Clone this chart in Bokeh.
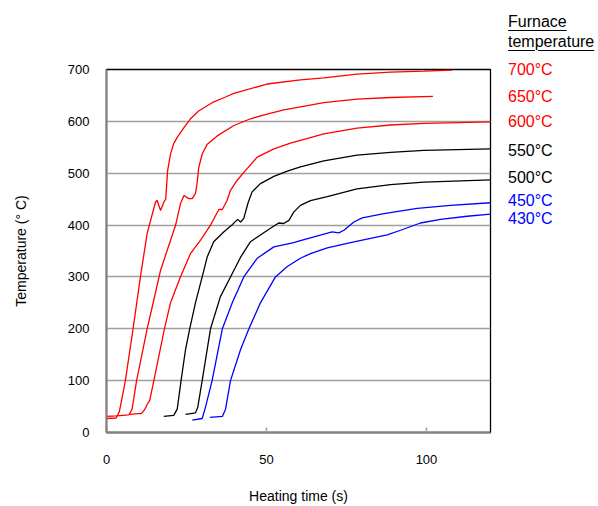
from bokeh.plotting import figure
from bokeh.layouts import row
from bokeh.models import Range1d, FixedTicker, Div
from bokeh.embed import file_html
from bokeh.resources import INLINE

# ---------------- data ----------------
furnace_labels = ["700°C", "650°C", "600°C", "550°C", "500°C", "450°C", "430°C"]
legend_title = ["Furnace", "temperature"]

t_700 = [0, 3, 4, 5.9, 8.3, 10.6, 12.7, 15.3, 15.8, 16.9, 17.9, 18.5, 19.1, 20, 21, 22.1, 24.2,
         26.25, 28.8, 33, 37.2, 39.8, 50.2, 60.6, 67.9, 78.3, 88.75, 99.2, 108]
T_700 = [27, 28, 40, 100, 200, 300, 384, 444, 448, 428, 444, 450, 505, 537, 557, 569, 588,
         605, 620, 636, 647, 654, 672, 680, 684, 691, 695, 697, 699]

t_650 = [0, 3, 7, 8, 9.4, 12.7, 14.8, 16.9, 19, 21.6, 23.1, 24.2, 25.7, 26.8, 27.8, 28.3, 28.8,
         29.9, 31.5, 34.6, 39.8, 45, 50.2, 55.4, 60.6, 67.9, 78.3, 88.75, 102]
T_650 = [31, 32, 34, 45, 100, 200, 256, 313, 352, 400, 441, 457, 451, 451, 461, 480, 510,
         537, 556, 572, 592, 605, 614, 622, 628, 636, 643, 646, 648]

t_600 = [7.3, 11, 12, 12.8, 13.5, 14.8, 18.1, 20, 23.1, 26.25, 29.4, 32.5, 35.1, 36.2, 37.7,
         38.75, 40.8, 43.4, 47.1, 52.3, 57.5, 67.9, 78.3, 88.75, 99.2, 120]
T_600 = [35, 37, 45, 55, 62, 100, 200, 250, 300, 345, 371, 400, 430, 430, 448,
         467, 486, 505, 531, 547, 558, 576, 587, 593, 596, 599]

t_550 = [17.9, 21, 22.1, 23.3, 24.7, 26.0, 27.8, 29.9, 31.5, 33.5, 36.7, 39.2, 41, 41.9, 42.9,
         44.2, 45.5, 48.1, 52.3, 56.5, 60.6, 67.9, 78.3, 88.75, 99.2, 120]
T_550 = [31, 33, 45, 100, 160, 200, 250, 300, 339, 368, 387, 400, 411, 406, 413,
         442, 464, 480, 494, 504, 512, 524, 535, 540, 544, 547]

t_500 = [24.7, 27.8, 28.5, 29.9, 32.5, 35.6, 38.75, 41.9, 45, 48.1, 51.25, 53.8, 55.4, 57, 58.5,
         60.6, 63.75, 69, 78.3, 88.75, 99.2, 120]
T_500 = [35, 38, 48, 100, 200, 262, 300, 338, 368, 381, 394, 404, 403, 409, 425,
         438, 447, 455, 470, 478, 483, 487]

t_450 = [26.8, 29.9, 30.9, 33, 36.2, 39.3, 42.9, 47.1, 52.3, 58.5, 60.6, 70.5, 72.6, 74.2, 77.3,
         79.9, 86.7, 97.1, 107.5, 120]
T_450 = [24, 27, 48, 100, 200, 250, 300, 336, 358, 366, 370, 387, 385, 390, 406,
         414, 422, 432, 438, 443]

t_430 = [32.3, 36.2, 37.2, 38.75, 41.9, 44.5, 48.1, 52.8, 56.5, 60.6, 63.75, 69, 76.25, 87.7,
         91.9, 98.1, 104.4, 112.7, 120]
T_430 = [29, 31, 45, 100, 160, 200, 250, 300, 320, 336, 345, 356, 366, 381,
         390, 404, 411, 417, 421]

x_ticks = [0, 50, 100]
y_ticks = [0, 100, 200, 300, 400, 500, 600, 700]

series_t = [t_700, t_650, t_600, t_550, t_500, t_450, t_430]
series_T = [T_700, T_650, T_600, T_550, T_500, T_450, T_430]

# ---------------- style ----------------
colors = ["#ff0000", "#ff0000", "#ff0000", "#000000", "#000000", "#0000ff", "#0000ff"]
FONT = "Liberation Sans"

p = figure(width=500, height=506, output_backend="svg", toolbar_location=None,
           x_range=Range1d(0, 120), y_range=Range1d(0, 700),
           min_border_left=106, min_border_right=10, min_border_top=69, min_border_bottom=73)
p.background_fill_color = "white"
p.border_fill_color = "white"
p.outline_line_color = "black"
p.outline_line_width = 1.3

for t, T, c in zip(series_t, series_T, colors):
    p.line(t, T, line_color=c, line_width=1.3)

# axes
p.xaxis.ticker = FixedTicker(ticks=x_ticks)
p.yaxis.ticker = FixedTicker(ticks=y_ticks)
p.xaxis.minor_tick_line_color = None
p.yaxis.minor_tick_line_color = None
for ax in (p.xaxis, p.yaxis):
    ax.axis_line_color = "#808080"
    ax.axis_line_width = 2
    ax.major_tick_line_color = "#a0a0a0"
    ax.major_tick_line_width = 1.5
    ax.major_label_text_font = FONT
    ax.major_label_text_font_size = "13px"
    ax.major_label_text_color = "black"
    ax.axis_label_text_font = FONT
    ax.axis_label_text_font_size = "14px"
    ax.axis_label_text_font_style = "normal"
    ax.axis_label_text_color = "black"
p.xaxis.major_tick_in = 5
p.xaxis.major_tick_out = 0
p.yaxis.major_tick_in = 0
p.yaxis.major_tick_out = 0
p.xaxis.major_label_standoff = 22
p.yaxis.major_label_standoff = 17
p.xaxis.axis_label = "Heating time (s)"
p.yaxis.axis_label = "Temperature (° C)"
p.xaxis.axis_label_standoff = 21
p.yaxis.axis_label_standoff = 36

p.xgrid.grid_line_color = None
p.ygrid.grid_line_color = "#a0a0a0"
p.ygrid.grid_line_width = 1.5

# ---------------- right-hand legend (HTML text beside the plot) ----------------
text_left = 8
title_center = [21.5, 41.5]
label_center = [70, 96.7, 122, 150.7, 178, 200.7, 219]

parts = []
for txt, yc in zip(legend_title, title_center):
    parts.append(
        f'<div style="position:absolute;left:{text_left}px;top:{yc - 8}px;color:#000;'
        f'white-space:nowrap;text-decoration:underline;text-underline-offset:3px;'
        f'text-decoration-thickness:1px;">{txt}</div>')
for txt, yc, c in zip(furnace_labels, label_center, colors):
    parts.append(
        f'<div style="position:absolute;left:{text_left}px;top:{yc - 8}px;color:{c};'
        f'white-space:nowrap;">{txt}</div>')

html = ('<div style="position:relative;width:98px;height:506px;margin:0;padding:0;'
        f"font-family:'{FONT}',Arial,sans-serif;font-size:16px;line-height:16px;\">"
        + "".join(parts) + "</div>")
legend = Div(text=html, width=98, height=506, margin=0)

layout = row(p, legend)
open("out.html", "w").write(file_html(layout, INLINE))
